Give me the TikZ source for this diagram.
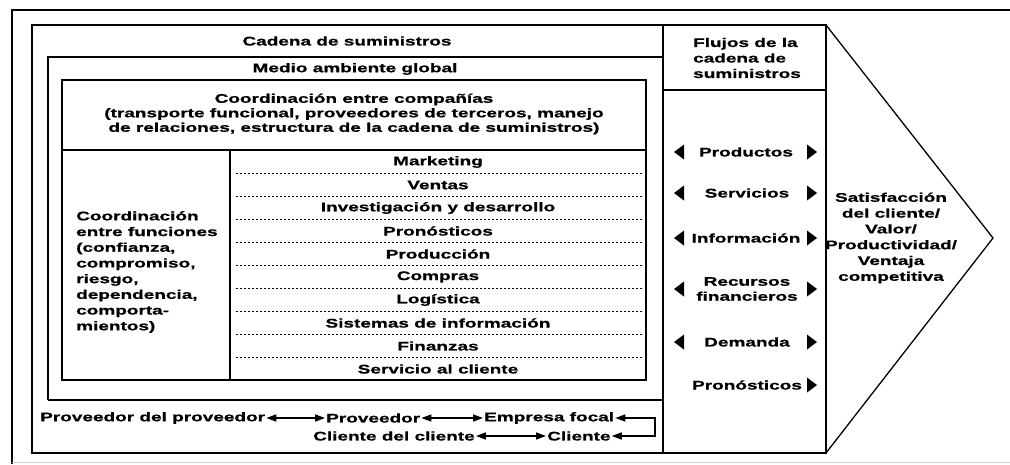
\documentclass[tikz,border=0pt]{standalone}
\usepackage{fontspec}
\setmainfont{Liberation Sans}[FakeStretch=1.52,FakeBold=0.8]
\usetikzlibrary{arrows.meta}
\begin{document}
\begin{tikzpicture}[x=1pt,y=-1pt,
  frame/.style={line width=1.6pt},
  thin frame/.style={line width=1.3pt},
  txt/.style={font=\fontsize{12.5}{15.5}\selectfont\bfseries, inner sep=1pt},
  fn/.style={txt},
  dots/.style={line width=0.9pt, dash pattern=on 2pt off 2pt},
  flow/.style={txt, align=center},
  biarrow/.style={line width=1.5pt, {Triangle[length=10pt,width=7pt]}-{Triangle[length=10pt,width=7pt]}},
  lt/.pic={\fill (-5,0) -- (5,-7.5) -- (5,7.5) -- cycle;},
  rt/.pic={\fill (5,0) -- (-5,-7.5) -- (-5,7.5) -- cycle;}
]
\useasboundingbox (0,0) rectangle (1010,464);
% outer (cropped) frame
\draw[frame] (12,464) -- (12,10) -- (1010,10);
\draw[gray!40, line width=1pt] (12,462) -- (1010,462);
% supply chain box
\draw[frame] (32,25) rectangle (663,453);
\node[txt] (cadena) at (347,41) {Cadena de suministros};
% global environment box
\draw[frame] (48,400) -- (48,57) -- (663,57);
\draw[frame] (48,400) -- (663,400);
\node[txt] (medio) at (355,69) {Medio ambiente global};
% coordination box
\draw[frame] (62,80) rectangle (646,380);
\draw[frame] (62,150) -- (646,150);
\draw[frame] (230,150) -- (230,380);
\node[txt, align=center, font=\fontsize{12.5}{14.5}\selectfont\bfseries] (coord) at (354,114)
  {Coordinación entre compañías\\(transporte funcional, proveedores de terceros, manejo\\de relaciones, estructura de la cadena de suministros)};
\node[txt, align=left, font=\fontsize{12.5}{15.7}\selectfont\bfseries, anchor=west] (func) at (75,272)
  {Coordinación\\entre funciones\\(confianza,\\compromiso,\\riesgo,\\dependencia,\\comporta-\\mientos)};
% function list
\foreach \t [count=\i from 0] in {Marketing,Ventas,Investigación y desarrollo,Pronósticos,Producción,Compras,Logística,Sistemas de información,Finanzas,Servicio al cliente}{
  \node[fn] (f\i) at (438,{162+23*\i}) {\t};
}
\foreach \i in {0,...,8}{
  \draw[dots] (236,{173+23*\i}) -- (642,{173+23*\i});
}
% bottom chain
\node[txt, anchor=west] (pp) at (39,418) {Proveedor del proveedor};
\node[txt, anchor=west] (pv) at (325,418) {Proveedor};
\node[txt, anchor=west] (ef) at (483,418) {Empresa focal};
\node[txt, anchor=west] (cc) at (312,436) {Cliente del cliente};
\node[txt, anchor=west] (cl) at (546,436) {Cliente};
\coordinate (loopx) at (655,0);
\draw[biarrow] (pp.east) -- (pv.west);
\draw[biarrow] (pv.east) -- (ef.west);
\draw[biarrow] (cc.east) -- (cl.west);
\draw[biarrow] (ef.east) -- (ef.east -| loopx) -- (cl.east -| loopx) -- (cl.east);
% flows column
\draw[frame] (663,25) rectangle (826,453);
\draw[frame] (663,90) -- (826,90);
\node[txt, align=left] (fhead) at (747,58) {Flujos de la\\cadena de\\suministros};
\coordinate (lx) at (679,0);
\coordinate (rx) at (812,0);
\node[flow] (fP) at (746,152) {Productos};
\node[flow] (fS) at (747,193) {Servicios};
\node[flow] (fI) at (746,238) {Información};
\node[flow, font=\fontsize{12.5}{15}\selectfont\bfseries] (fR) at (747,289) {Recursos\\financieros};
\node[flow] (fD) at (747,342) {Demanda};
\node[flow] (fPr) at (747,385) {Pronósticos};
\foreach \n in {fP,fS,fI,fR,fD}{
  \pic at (\n -| lx) {lt};
  \pic at (\n -| rx) {rt};
}
\pic at (fPr -| rx) {rt};
% result chevron
\draw[thin frame, line join=miter] (826,25) -- (993,238) -- (826,453);
\node[txt, align=center, font=\fontsize{12.5}{15.8}\selectfont\bfseries] (sat) at (891,238)
  {Satisfacción\\del cliente/\\Valor/\\Productividad/\\Ventaja\\competitiva};
\end{tikzpicture}
\end{document}
